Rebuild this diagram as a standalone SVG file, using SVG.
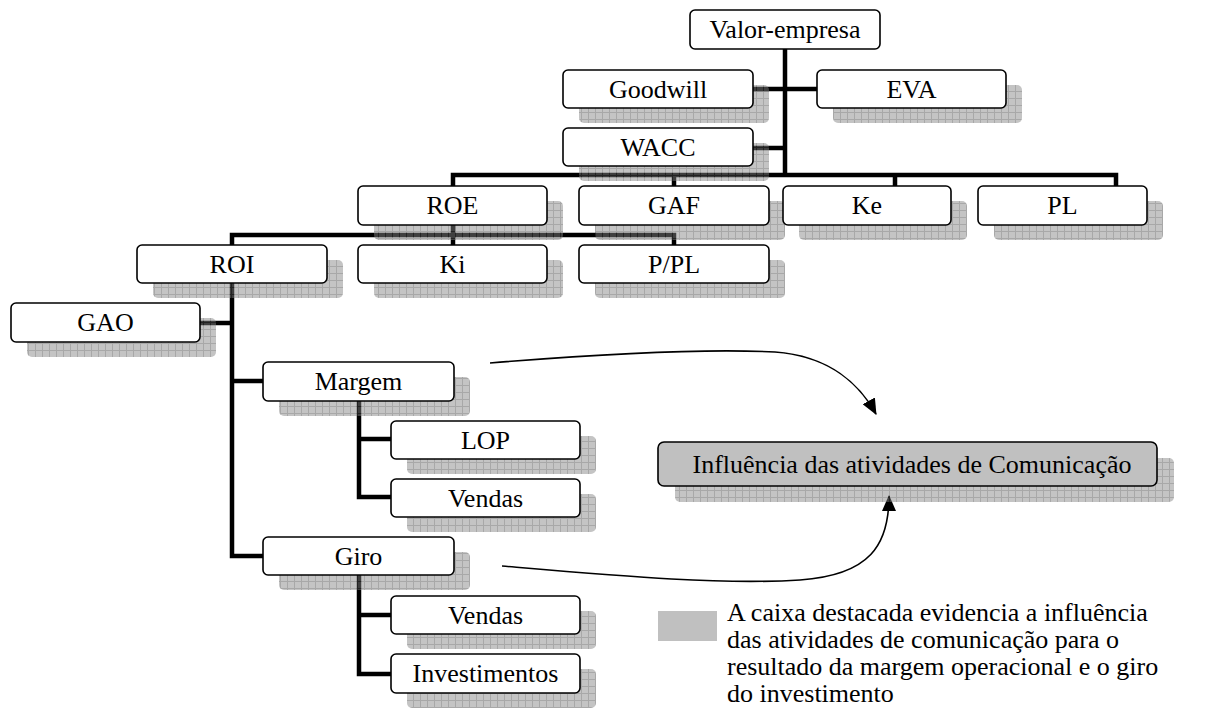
<svg xmlns="http://www.w3.org/2000/svg" width="1229" height="716" viewBox="0 0 1229 716">
<defs>
<pattern id="grid" patternUnits="userSpaceOnUse" width="7" height="7">
<rect width="7" height="7" fill="#858585"/>
<path d="M0 0.5H7M0.5 0V7" stroke="#4a4a4a" stroke-width="1"/>
</pattern>
<marker id="arr" markerWidth="16" markerHeight="14" refX="15" refY="7" orient="auto" markerUnits="userSpaceOnUse">
<path d="M0 0L16 7L0 14Z" fill="#000"/>
</marker>
</defs>
<style>
.box{fill:#fff;stroke:#000;stroke-width:1.6}
.hl{fill:#c0c0c0;stroke:#000;stroke-width:1.6}
.sh{fill:url(#grid)}
.t{font-family:"Liberation Serif","Times New Roman",serif;font-size:26px;fill:#000;text-anchor:middle}
.lg{font-family:"Liberation Serif","Times New Roman",serif;font-size:26px;fill:#000}
.ln{fill:none;stroke:#000;stroke-width:4.5;stroke-linecap:square;stroke-linejoin:miter}
.cv{fill:none;stroke:#000;stroke-width:1.6}
</style>
<rect width="1229" height="716" fill="#fff"/>
<g id="connectors">
<path class="ln" d="M785 49V175M753 89H817M753 148H785M453 175H1116M453 175V186M674 175V186M895 175V186M1116 175V186"/>
<path class="ln" d="M453 225V245M232 245V235H674V245"/>
<path class="ln" d="M232 283V556H263M200 323H232M232 381H263"/>
<path class="ln" d="M359 401V497H391M359 439H391"/>
<path class="ln" d="M359 575V674H391M359 615H391"/>
<path class="cv" d="M490 363C600 354 700 348 775 352C830 356 860 385 876 414" marker-end="url(#arr)"/>
<path class="cv" d="M502 566C620 576 720 585 800 580C870 575 889 545 889 496" marker-end="url(#arr)"/>
</g>
<g id="shadows" opacity="0.48">
<rect class="sh" x="579" y="85" width="190" height="38" rx="5"/>
<rect class="sh" x="833" y="85" width="189" height="38" rx="5"/>
<rect class="sh" x="579" y="143" width="190" height="38" rx="5"/>
<rect class="sh" x="374" y="201" width="189" height="39" rx="5"/>
<rect class="sh" x="595" y="201" width="190" height="39" rx="5"/>
<rect class="sh" x="799" y="201" width="168" height="39" rx="5"/>
<rect class="sh" x="994" y="201" width="169" height="39" rx="5"/>
<rect class="sh" x="153" y="260" width="190" height="38" rx="5"/>
<rect class="sh" x="374" y="260" width="189" height="38" rx="5"/>
<rect class="sh" x="595" y="260" width="190" height="38" rx="5"/>
<rect class="sh" x="27" y="318" width="189" height="39" rx="5"/>
<rect class="sh" x="279" y="377" width="191" height="39" rx="5"/>
<rect class="sh" x="407" y="436" width="189" height="38" rx="5"/>
<rect class="sh" x="407" y="494" width="189" height="38" rx="5"/>
<rect class="sh" x="279" y="552" width="191" height="38" rx="5"/>
<rect class="sh" x="407" y="611" width="189" height="38" rx="5"/>
<rect class="sh" x="407" y="669" width="189" height="39" rx="5"/>
<rect class="sh" x="675" y="458" width="499" height="44" rx="5"/>
</g>
<g id="n-valor"><rect class="box" x="690" y="10" width="190" height="39" rx="5"/><text class="t" x="785" y="38">Valor-empresa</text></g>
<g id="n-goodwill"><rect class="box" x="563" y="70" width="190" height="38" rx="5"/><text class="t" x="658" y="97.5">Goodwill</text></g>
<g id="n-eva"><rect class="box" x="817" y="70" width="189" height="38" rx="5"/><text class="t" x="911.5" y="97.5">EVA</text></g>
<g id="n-wacc"><rect class="box" x="563" y="128" width="190" height="38" rx="5"/><text class="t" x="658" y="155.5">WACC</text></g>
<g id="n-roe"><rect class="box" x="358" y="186" width="189" height="39" rx="5"/><text class="t" x="452.5" y="214">ROE</text></g>
<g id="n-gaf"><rect class="box" x="579" y="186" width="190" height="39" rx="5"/><text class="t" x="674" y="214">GAF</text></g>
<g id="n-ke"><rect class="box" x="783" y="186" width="168" height="39" rx="5"/><text class="t" x="867" y="214">Ke</text></g>
<g id="n-pl"><rect class="box" x="978" y="186" width="169" height="39" rx="5"/><text class="t" x="1062.5" y="214">PL</text></g>
<g id="n-roi"><rect class="box" x="137" y="245" width="190" height="38" rx="5"/><text class="t" x="232" y="272.5">ROI</text></g>
<g id="n-ki"><rect class="box" x="358" y="245" width="189" height="38" rx="5"/><text class="t" x="452.5" y="272.5">Ki</text></g>
<g id="n-ppl"><rect class="box" x="579" y="245" width="190" height="38" rx="5"/><text class="t" x="674" y="272.5">P/PL</text></g>
<g id="n-gao"><rect class="box" x="11" y="303" width="189" height="39" rx="5"/><text class="t" x="105.5" y="331">GAO</text></g>
<g id="n-margem"><rect class="box" x="263" y="362" width="191" height="39" rx="5"/><text class="t" x="358.5" y="390">Margem</text></g>
<g id="n-lop"><rect class="box" x="391" y="421" width="189" height="38" rx="5"/><text class="t" x="485.5" y="448.5">LOP</text></g>
<g id="n-vendas1"><rect class="box" x="391" y="479" width="189" height="38" rx="5"/><text class="t" x="485.5" y="506.5">Vendas</text></g>
<g id="n-giro"><rect class="box" x="263" y="537" width="191" height="38" rx="5"/><text class="t" x="358.5" y="564.5">Giro</text></g>
<g id="n-vendas2"><rect class="box" x="391" y="596" width="189" height="38" rx="5"/><text class="t" x="485.5" y="623.5">Vendas</text></g>
<g id="n-invest"><rect class="box" x="391" y="654" width="189" height="39" rx="5"/><text class="t" x="485.5" y="682">Investimentos</text></g>
<g id="n-influencia"><rect class="hl" x="658" y="442" width="499" height="44" rx="6"/><text class="t" x="912" y="473">Influência das atividades de Comunicação</text></g>
<g id="legend">
<rect x="658" y="611" width="59" height="30" fill="#c0c0c0"/>
<text class="lg" x="727" y="621">A caixa destacada evidencia a influência</text>
<text class="lg" x="727" y="648">das atividades de comunicação para o</text>
<text class="lg" x="727" y="675">resultado da margem operacional e o giro</text>
<text class="lg" x="727" y="702">do investimento</text>
</g>
</svg>
